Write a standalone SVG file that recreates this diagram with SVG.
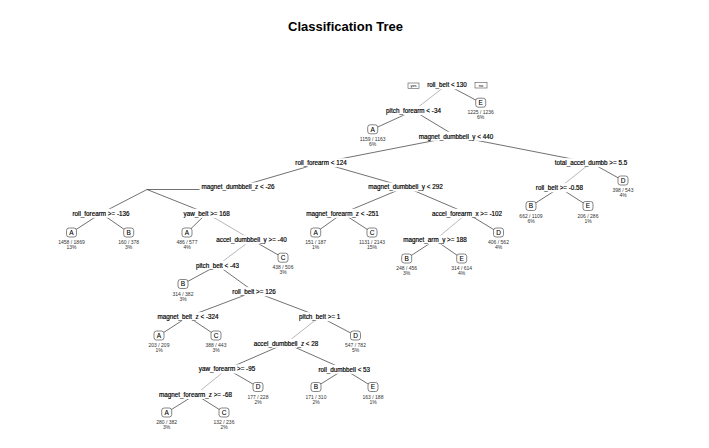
<svg xmlns="http://www.w3.org/2000/svg" width="709" height="448" viewBox="0 0 709 448">
<style>
text{font-family:"Liberation Sans",Arial,sans-serif;text-anchor:middle}
.t{font-size:13px;font-weight:bold;fill:#000}
.s{font-size:6.3px;fill:#000;stroke:#000;stroke-width:0.18}
.bg{fill:#fff}
.lb{fill:#fff;stroke:#333;stroke-width:0.6}
.lt{font-size:6.5px;fill:#000;stroke:#000;stroke-width:0.1}
.ct{font-size:5px;fill:#333}
.yn{fill:#fff;stroke:#333;stroke-width:0.5}
.ynt{font-size:4px;fill:#000}
#connectors line{stroke:#333;stroke-width:0.7}
#connectors line.l{stroke:#999}
</style>
<rect width="709" height="448" fill="#fff"/>
<text class="t" x="345.5" y="31">Classification Tree</text>
<g id="connectors">
<line class="l" x1="447" y1="84.7" x2="413.5" y2="110.7"/>
<line x1="447" y1="84.7" x2="480.7" y2="102.7"/>
<line x1="413.5" y1="110.7" x2="372.7" y2="129.3"/>
<line x1="413.5" y1="110.7" x2="456" y2="136.3"/>
<line x1="456" y1="136.3" x2="321" y2="162.7"/>
<line x1="456" y1="136.3" x2="591" y2="162.7"/>
<line class="l" x1="591" y1="162.7" x2="559.5" y2="187.7"/>
<line x1="591" y1="162.7" x2="623" y2="180.5"/>
<line x1="559.5" y1="187.7" x2="531" y2="206"/>
<line x1="559.5" y1="187.7" x2="588" y2="206"/>
<line x1="321" y1="162.7" x2="238" y2="187"/>
<line x1="321" y1="162.7" x2="405.5" y2="187"/>
<line x1="147" y1="189.5" x2="238" y2="189.5"/>
<line x1="147" y1="189.5" x2="101" y2="213.3"/>
<line x1="147" y1="189.5" x2="206.7" y2="213.3"/>
<line x1="101" y1="213.3" x2="71.5" y2="232.5"/>
<line x1="101" y1="213.3" x2="128.7" y2="232.5"/>
<line x1="206.7" y1="213.3" x2="187" y2="232.5"/>
<line class="l" x1="206.7" y1="213.3" x2="251.5" y2="239.7"/>
<line x1="405.5" y1="187" x2="342.5" y2="213.3"/>
<line x1="405.5" y1="187" x2="467" y2="213.3"/>
<line x1="342.5" y1="213.3" x2="315.7" y2="232.5"/>
<line x1="342.5" y1="213.3" x2="372" y2="232.5"/>
<line class="l" x1="467" y1="213.3" x2="435" y2="240"/>
<line x1="467" y1="213.3" x2="498.5" y2="232.5"/>
<line x1="435" y1="240" x2="406.7" y2="258.5"/>
<line x1="435" y1="240" x2="461.7" y2="258.5"/>
<line class="l" x1="251.5" y1="239.7" x2="217.5" y2="265.3"/>
<line x1="251.5" y1="239.7" x2="283" y2="257.7"/>
<line x1="217.5" y1="265.3" x2="183" y2="284"/>
<line x1="217.5" y1="265.3" x2="254" y2="291.7"/>
<line x1="254" y1="291.7" x2="188" y2="316.7"/>
<line x1="254" y1="291.7" x2="319.7" y2="316.7"/>
<line x1="188" y1="316.7" x2="159" y2="335.5"/>
<line x1="188" y1="316.7" x2="216" y2="335.5"/>
<line class="l" x1="319.7" y1="316.7" x2="286" y2="343.3"/>
<line x1="319.7" y1="316.7" x2="355.5" y2="335.5"/>
<line x1="286" y1="343.3" x2="227" y2="369"/>
<line x1="286" y1="343.3" x2="344.3" y2="369.3"/>
<line class="l" x1="227" y1="369" x2="195.5" y2="394.5"/>
<line x1="227" y1="369" x2="258" y2="387"/>
<line x1="344.3" y1="369.3" x2="316" y2="387"/>
<line x1="344.3" y1="369.3" x2="373" y2="387"/>
<line x1="195.5" y1="394.5" x2="166.7" y2="412.5"/>
<line x1="195.5" y1="394.5" x2="224" y2="412.5"/>
</g>
<g id="n1"><rect class="bg" x="425.5" y="80.2" width="43" height="9"/><text class="s" x="447" y="86.9">roll_belt &lt; 130</text>
<rect class="yn" x="408" y="83" width="11" height="5.5"/><text class="ynt" x="413.5" y="87">yes</text>
<rect class="yn" x="475" y="82.5" width="12" height="5.5"/><text class="ynt" x="481" y="86.6">no</text></g>
<g id="n2"><rect class="bg" x="383.5" y="106.2" width="60" height="9"/><text class="s" x="413.5" y="112.9">pitch_forearm &lt; -34</text></g>
<g id="n5"><rect class="bg" x="417.5" y="131.8" width="77" height="9"/><text class="s" x="456" y="138.5">magnet_dumbbell_y &lt; 440</text></g>
<g id="n10"><rect class="bg" x="293.5" y="158.2" width="55" height="9"/><text class="s" x="321" y="164.9">roll_forearm &lt; 124</text></g>
<g id="n11"><rect class="bg" x="552.5" y="158.2" width="77" height="9"/><text class="s" x="591" y="164.9">total_accel_dumbb &gt;= 5.5</text></g>
<g id="n20"><rect class="bg" x="199.5" y="182.5" width="77" height="9"/><text class="s" x="238" y="189.2">magnet_dumbbell_z &lt; -26</text></g>
<g id="n21"><rect class="bg" x="366.5" y="182.5" width="78" height="9"/><text class="s" x="405.5" y="189.2">magnet_dumbbell_y &lt; 292</text></g>
<g id="n22"><rect class="bg" x="534.5" y="183.2" width="50" height="9"/><text class="s" x="559.5" y="189.9">roll_belt &gt;= -0.58</text></g>
<g id="n40"><rect class="bg" x="70" y="208.8" width="62" height="9"/><text class="s" x="101" y="215.5">roll_forearm &gt;= -136</text></g>
<g id="n41"><rect class="bg" x="182" y="208.8" width="49" height="9"/><text class="s" x="206.7" y="215.5">yaw_belt &gt;= 168</text></g>
<g id="n42"><rect class="bg" x="304.5" y="208.8" width="76" height="9"/><text class="s" x="342.5" y="215.5">magnet_forearm_z &lt; -251</text></g>
<g id="n43"><rect class="bg" x="429.5" y="208.8" width="75" height="9"/><text class="s" x="467" y="215.5">accel_forearm_x &gt;= -102</text></g>
<g id="n83"><rect class="bg" x="213.5" y="235.2" width="76" height="9"/><text class="s" x="251.5" y="241.9">accel_dumbbell_y &gt;= -40</text></g>
<g id="n86"><rect class="bg" x="401.5" y="235.5" width="67" height="9"/><text class="s" x="435" y="242.2">magnet_arm_y &gt;= 188</text></g>
<g id="n166"><rect class="bg" x="193.5" y="260.8" width="48" height="9"/><text class="s" x="217.5" y="267.5">pitch_belt &lt; -43</text></g>
<g id="n333"><rect class="bg" x="230" y="287.2" width="48" height="9"/><text class="s" x="254" y="293.9">roll_belt &gt;= 126</text></g>
<g id="n666"><rect class="bg" x="155" y="312.2" width="66" height="9"/><text class="s" x="188" y="318.9">magnet_belt_z &lt; -324</text></g>
<g id="n667"><rect class="bg" x="297.5" y="312.2" width="44" height="9"/><text class="s" x="319.7" y="318.9">pitch_belt &gt;= 1</text></g>
<g id="n1334"><rect class="bg" x="251.5" y="338.8" width="69" height="9"/><text class="s" x="286" y="345.5">accel_dumbbell_z &lt; 28</text></g>
<g id="n2668"><rect class="bg" x="196.5" y="364.5" width="61" height="9"/><text class="s" x="227" y="371.2">yaw_forearm &gt;= -95</text></g>
<g id="n2669"><rect class="bg" x="316.5" y="364.8" width="55" height="9"/><text class="s" x="344.3" y="371.5">roll_dumbbell &lt; 53</text></g>
<g id="n5336"><rect class="bg" x="156.5" y="390" width="78" height="9"/><text class="s" x="195.5" y="396.7">magnet_forearm_z &gt;= -68</text></g>
<g id="leaf3"><rect class="lb" x="475.7" y="98.2" width="10" height="9" rx="2.5"/><text class="lt" x="480.7" y="105">E</text><text class="ct" x="480.7" y="114.4">1225 / 1236</text><text class="ct" x="480.7" y="119.4">6%</text></g>
<g id="leaf4"><rect class="lb" x="367.7" y="124.8" width="10" height="9" rx="2.5"/><text class="lt" x="372.7" y="131.6">A</text><text class="ct" x="372.7" y="141">1159 / 1163</text><text class="ct" x="372.7" y="146">6%</text></g>
<g id="leaf23"><rect class="lb" x="618" y="176" width="10" height="9" rx="2.5"/><text class="lt" x="623" y="182.8">D</text><text class="ct" x="623" y="192.2">398 / 543</text><text class="ct" x="623" y="197.2">4%</text></g>
<g id="leaf44"><rect class="lb" x="526" y="201.5" width="10" height="9" rx="2.5"/><text class="lt" x="531" y="208.3">B</text><text class="ct" x="531" y="217.7">662 / 1109</text><text class="ct" x="531" y="222.7">6%</text></g>
<g id="leaf45"><rect class="lb" x="583" y="201.5" width="10" height="9" rx="2.5"/><text class="lt" x="588" y="208.3">E</text><text class="ct" x="588" y="217.7">206 / 286</text><text class="ct" x="588" y="222.7">1%</text></g>
<g id="leaf80"><rect class="lb" x="66.5" y="228" width="10" height="9" rx="2.5"/><text class="lt" x="71.5" y="234.8">A</text><text class="ct" x="71.5" y="244.2">1458 / 1869</text><text class="ct" x="71.5" y="249.2">13%</text></g>
<g id="leaf81"><rect class="lb" x="123.7" y="228" width="10" height="9" rx="2.5"/><text class="lt" x="128.7" y="234.8">B</text><text class="ct" x="128.7" y="244.2">160 / 378</text><text class="ct" x="128.7" y="249.2">3%</text></g>
<g id="leaf82"><rect class="lb" x="182" y="228" width="10" height="9" rx="2.5"/><text class="lt" x="187" y="234.8">A</text><text class="ct" x="187" y="244.2">486 / 577</text><text class="ct" x="187" y="249.2">4%</text></g>
<g id="leaf84"><rect class="lb" x="310.7" y="228" width="10" height="9" rx="2.5"/><text class="lt" x="315.7" y="234.8">A</text><text class="ct" x="315.7" y="244.2">151 / 187</text><text class="ct" x="315.7" y="249.2">1%</text></g>
<g id="leaf85"><rect class="lb" x="367" y="228" width="10" height="9" rx="2.5"/><text class="lt" x="372" y="234.8">C</text><text class="ct" x="372" y="244.2">1131 / 2143</text><text class="ct" x="372" y="249.2">15%</text></g>
<g id="leaf87"><rect class="lb" x="493.5" y="228" width="10" height="9" rx="2.5"/><text class="lt" x="498.5" y="234.8">D</text><text class="ct" x="498.5" y="244.2">406 / 562</text><text class="ct" x="498.5" y="249.2">4%</text></g>
<g id="leaf167"><rect class="lb" x="278" y="253.2" width="10" height="9" rx="2.5"/><text class="lt" x="283" y="260">C</text><text class="ct" x="283" y="269.4">438 / 506</text><text class="ct" x="283" y="274.4">3%</text></g>
<g id="leaf172"><rect class="lb" x="401.7" y="254" width="10" height="9" rx="2.5"/><text class="lt" x="406.7" y="260.8">B</text><text class="ct" x="406.7" y="270.2">248 / 456</text><text class="ct" x="406.7" y="275.2">3%</text></g>
<g id="leaf173"><rect class="lb" x="456.7" y="254" width="10" height="9" rx="2.5"/><text class="lt" x="461.7" y="260.8">E</text><text class="ct" x="461.7" y="270.2">314 / 614</text><text class="ct" x="461.7" y="275.2">4%</text></g>
<g id="leaf332"><rect class="lb" x="178" y="279.5" width="10" height="9" rx="2.5"/><text class="lt" x="183" y="286.3">B</text><text class="ct" x="183" y="295.7">314 / 382</text><text class="ct" x="183" y="300.7">3%</text></g>
<g id="leaf1332"><rect class="lb" x="154" y="331" width="10" height="9" rx="2.5"/><text class="lt" x="159" y="337.8">A</text><text class="ct" x="159" y="347.2">203 / 209</text><text class="ct" x="159" y="352.2">1%</text></g>
<g id="leaf1333"><rect class="lb" x="211" y="331" width="10" height="9" rx="2.5"/><text class="lt" x="216" y="337.8">C</text><text class="ct" x="216" y="347.2">388 / 443</text><text class="ct" x="216" y="352.2">3%</text></g>
<g id="leaf1335"><rect class="lb" x="350.5" y="331" width="10" height="9" rx="2.5"/><text class="lt" x="355.5" y="337.8">D</text><text class="ct" x="355.5" y="347.2">547 / 782</text><text class="ct" x="355.5" y="352.2">5%</text></g>
<g id="leaf5337"><rect class="lb" x="253" y="382.5" width="10" height="9" rx="2.5"/><text class="lt" x="258" y="389.3">D</text><text class="ct" x="258" y="398.7">177 / 228</text><text class="ct" x="258" y="403.7">2%</text></g>
<g id="leaf5338"><rect class="lb" x="311" y="382.5" width="10" height="9" rx="2.5"/><text class="lt" x="316" y="389.3">B</text><text class="ct" x="316" y="398.7">171 / 310</text><text class="ct" x="316" y="403.7">2%</text></g>
<g id="leaf5339"><rect class="lb" x="368" y="382.5" width="10" height="9" rx="2.5"/><text class="lt" x="373" y="389.3">E</text><text class="ct" x="373" y="398.7">163 / 188</text><text class="ct" x="373" y="403.7">1%</text></g>
<g id="leaf10672"><rect class="lb" x="161.7" y="408" width="10" height="9" rx="2.5"/><text class="lt" x="166.7" y="414.8">A</text><text class="ct" x="166.7" y="424.2">280 / 382</text><text class="ct" x="166.7" y="429.2">3%</text></g>
<g id="leaf10673"><rect class="lb" x="219" y="408" width="10" height="9" rx="2.5"/><text class="lt" x="224" y="414.8">C</text><text class="ct" x="224" y="424.2">132 / 236</text><text class="ct" x="224" y="429.2">2%</text></g>
</svg>
